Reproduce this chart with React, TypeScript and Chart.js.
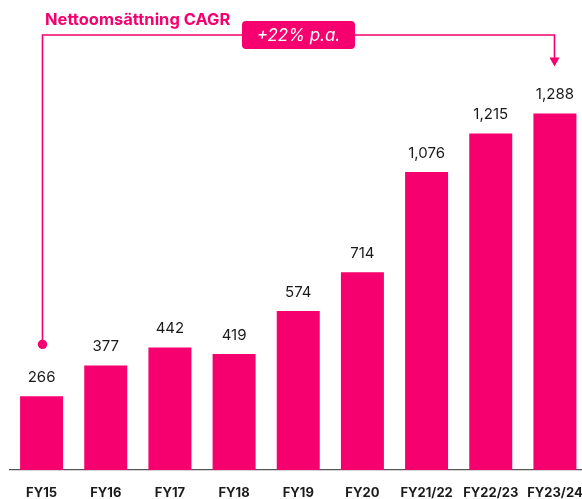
import React, { useEffect, useRef } from "react";
import { Chart, registerables } from "chart.js";

Chart.register(...registerables);

const categories = ["FY15", "FY16", "FY17", "FY18", "FY19", "FY20", "FY21/22", "FY22/23", "FY23/24"];
const revenue = [266, 377, 442, 419, 574, 714, 1076, 1215, 1288];
const titleText = "Nettoomsättning CAGR";
const cagrText = "+22% p.a.";

const PINK = "#f5006e";
const FONT = "Inter, 'Noto Sans', sans-serif";

const annotationPlugin = {
  id: "annot",
  afterDatasetsDraw(chart: any) {
    const ctx = chart.ctx;
    const meta = chart.getDatasetMeta(0);
    const bars = meta.data;
    ctx.save();
    // value labels
    ctx.fillStyle = "#1a1a1a";
    ctx.font = `400 15px ${FONT}`;
    ctx.textAlign = "center";
    ctx.textBaseline = "middle";
    bars.forEach((b: any, i: number) => {
      ctx.fillText(revenue[i].toLocaleString("en-US"), b.x, b.y - 19);
    });

    const first = bars[0];
    const last = bars[bars.length - 1];
    const lineY = 35;
    const dotY = first.y - 52;
    const arrowTip = last.y - 47;
    const x0 = Math.round(first.x) + 0.5;
    const x1 = Math.round(last.x) - 0.5;

    ctx.strokeStyle = PINK;
    ctx.fillStyle = PINK;
    ctx.lineWidth = 1.6;
    ctx.beginPath();
    ctx.moveTo(x0, dotY);
    ctx.lineTo(x0, lineY);
    ctx.lineTo(x1, lineY);
    ctx.lineTo(x1, arrowTip - 8);
    ctx.stroke();
    // arrow head
    ctx.beginPath();
    ctx.moveTo(x1 - 5, arrowTip - 9);
    ctx.lineTo(x1 + 5, arrowTip - 9);
    ctx.lineTo(x1, arrowTip);
    ctx.closePath();
    ctx.fill();
    // dot
    ctx.beginPath();
    ctx.arc(x0, dotY, 4.7, 0, Math.PI * 2);
    ctx.fill();

    // title
    ctx.textAlign = "left";
    ctx.font = `700 16.5px ${FONT}`;
    ctx.fillText(titleText, 45, 20);

    // box
    const cx = (x0 + x1) / 2;
    const bw = 113;
    const bh = 28;
    const bx = cx - bw / 2;
    const by = lineY - bh / 2;
    ctx.beginPath();
    (ctx as any).roundRect(bx, by, bw, bh, 4);
    ctx.fill();
    ctx.fillStyle = "#ffffff";
    ctx.textAlign = "center";
    ctx.font = `italic 400 17px ${FONT}`;
    ctx.fillText(cagrText, cx, lineY + 0.5);
    ctx.restore();
  },
};

export default function App() {
  const ref = useRef<HTMLCanvasElement | null>(null);
  useEffect(() => {
    if (!ref.current) return;
    const chart = new Chart(ref.current, {
      type: "bar",
      data: {
        labels: categories,
        datasets: [
          {
            data: revenue,
            backgroundColor: PINK,
            borderWidth: 0,
            barPercentage: 0.67,
            categoryPercentage: 1,
          },
        ],
      },
      options: {
        responsive: false,
        animation: false,
        layout: { padding: { left: 9.5, right: 3, top: 27, bottom: 0 } },
        plugins: { legend: { display: false }, tooltip: { enabled: false } },
        scales: {
          x: {
            grid: { display: false, drawTicks: false },
            border: { display: true, color: "#555555", width: 1.2 },
            ticks: {
              color: "#1a1a1a",
              font: { family: FONT, size: 13, weight: "bold" },
              padding: 15,
              maxRotation: 0,
              autoSkip: false,
            },
            afterFit(scale: any) {
              scale.height = 29;
              scale.paddingLeft = 0;
              scale.paddingRight = 0;
            },
          },
          y: {
            display: false,
            min: 0,
            max: 1600,
          },
        },
      },
      plugins: [annotationPlugin],
    } as any);
    return () => chart.destroy();
  }, []);
  return (
    <div style={{ position: "fixed", left: 0, top: 0, width: 582, height: 499, overflow: "hidden", background: "#fff" }}>
      <div style={{ width: 590, height: 499 }}>
        <canvas ref={ref} width={590} height={499} style={{ display: "block", width: 590, height: 499 }} />
      </div>
    </div>
  );
}
